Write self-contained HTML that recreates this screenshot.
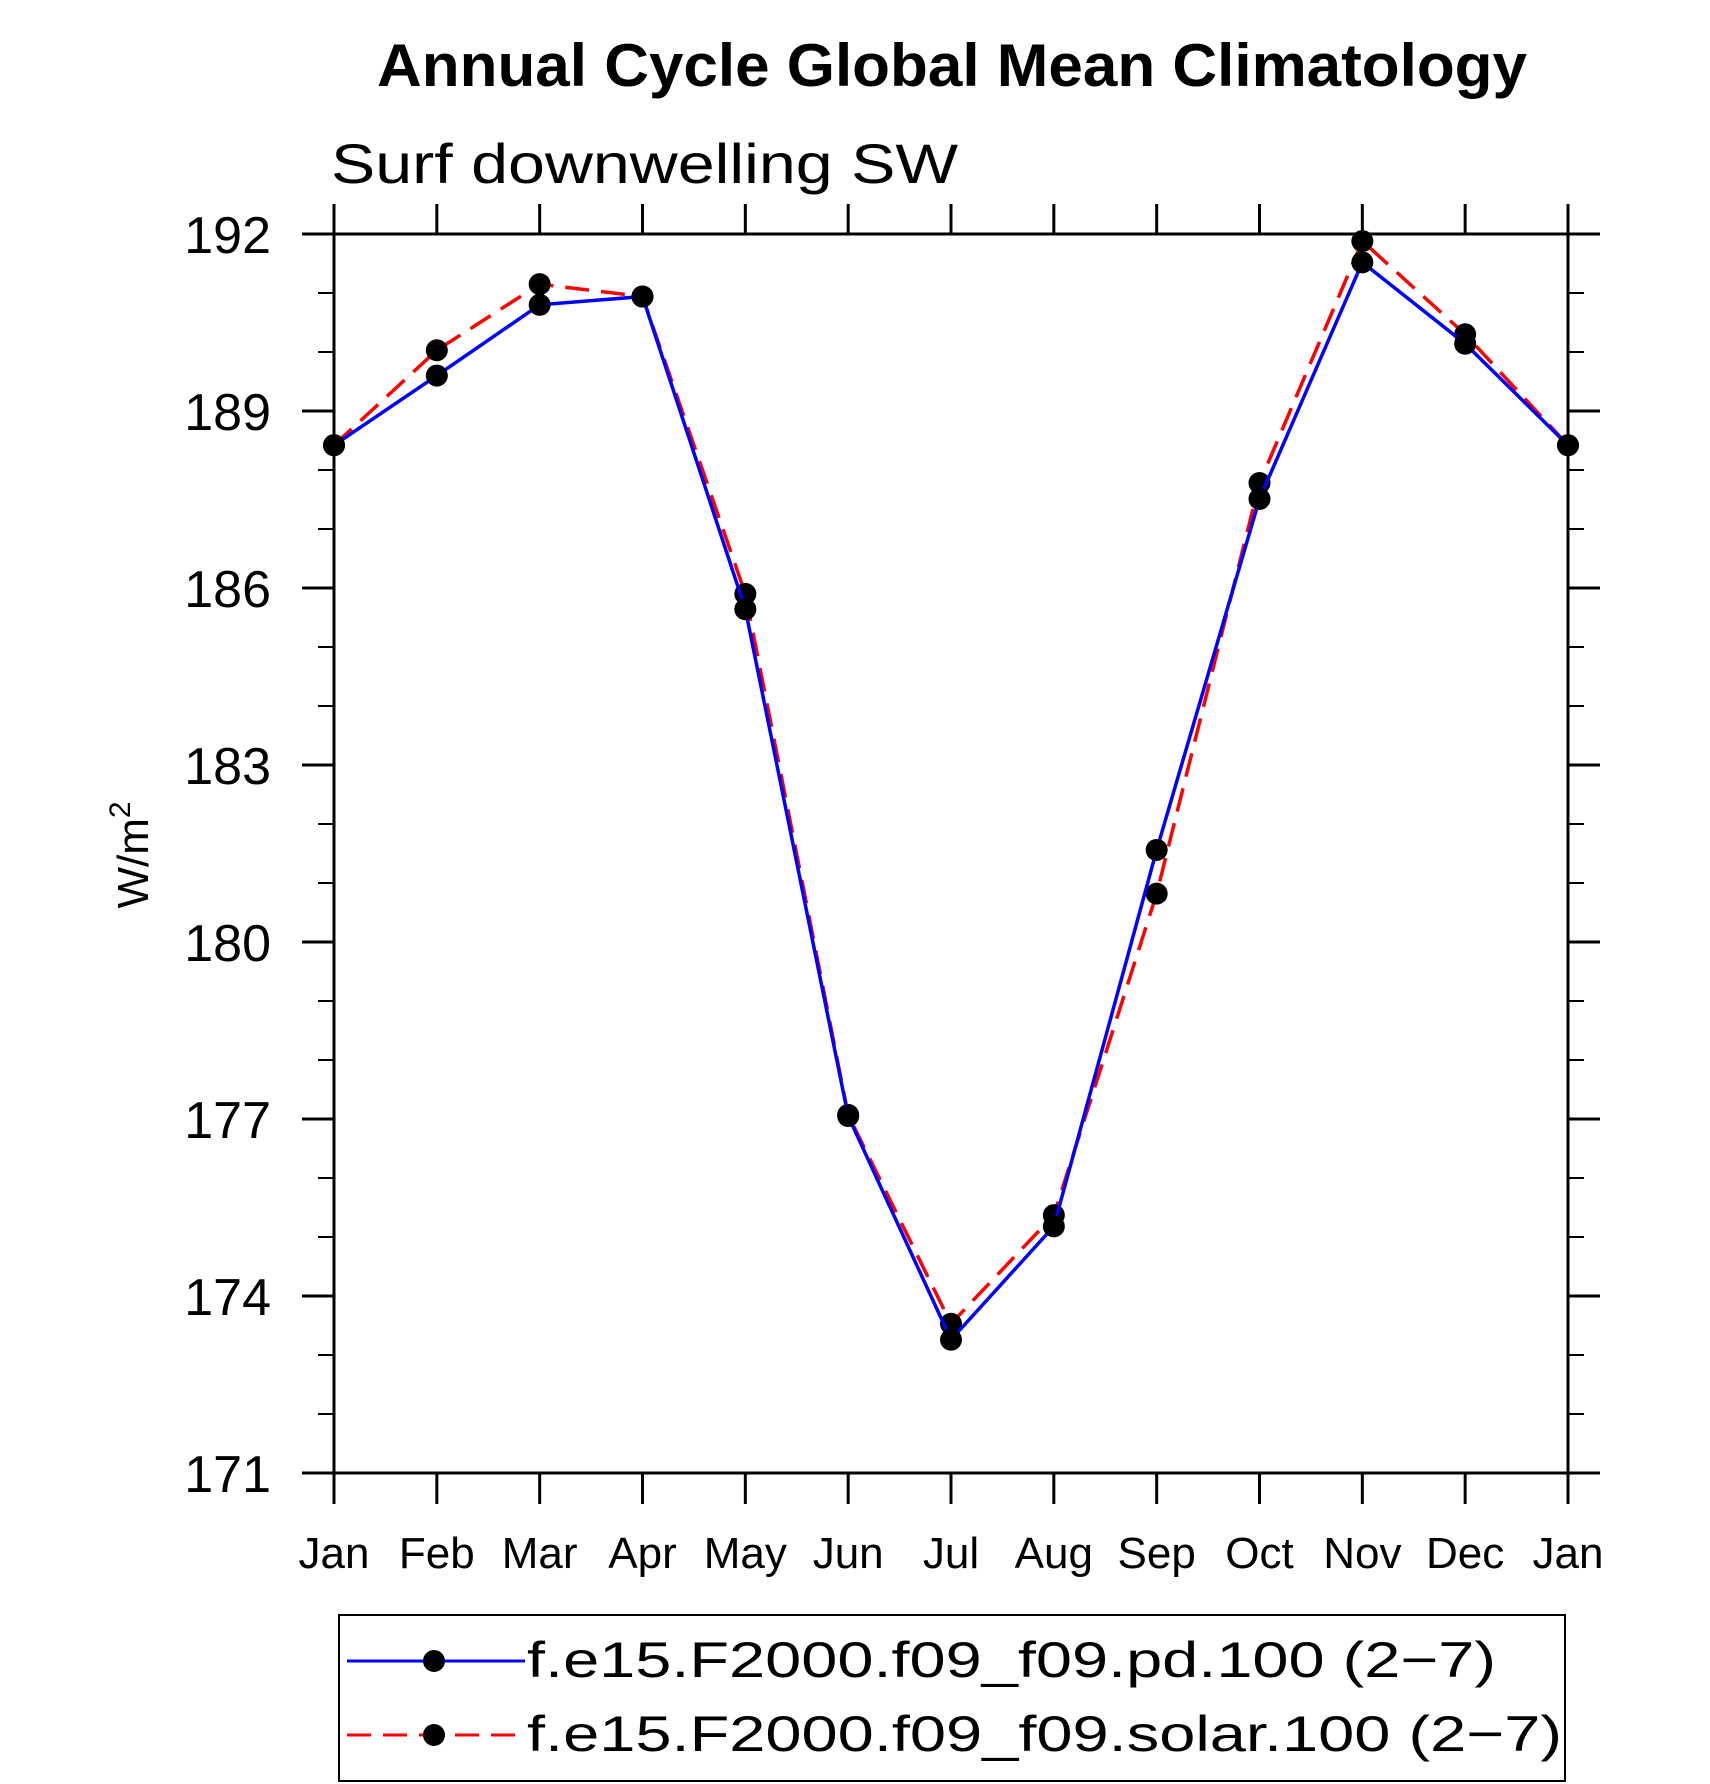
<!DOCTYPE html>
<html><head><meta charset="utf-8"><style>
html,body{margin:0;padding:0;background:#fff;}
svg{display:block;font-family:"Liberation Sans",sans-serif;}
</style></head><body>
<svg id="chart" width="1710" height="1784" viewBox="0 0 1710 1784" xmlns="http://www.w3.org/2000/svg">
<text x="952" y="86" font-size="60" font-weight="bold" text-anchor="middle" textLength="1150" lengthAdjust="spacingAndGlyphs">Annual Cycle Global Mean Climatology</text>
<text x="331" y="183" font-size="56" font-weight="300" textLength="627" lengthAdjust="spacingAndGlyphs">Surf downwelling SW</text>
<text transform="translate(148,855) rotate(-90)" font-size="44" text-anchor="middle">W/m<tspan dy="-18" font-size="30">2</tspan></text>
<g id="axes"></g>
<g id="series"></g>
<rect x="339" y="1615" width="1226" height="166" fill="none" stroke="#000" stroke-width="2"/>
<g>
<line x1="347" y1="1661" x2="525" y2="1661" stroke="#0000ff" stroke-width="3"/>
<circle cx="434" cy="1661" r="11" fill="#000"/>
<text x="527" y="1677" font-size="50" textLength="969" lengthAdjust="spacingAndGlyphs">f.e15.F2000.f09_f09.pd.100 (2−7)</text>
</g>
<g>
<line x1="347" y1="1735" x2="525" y2="1735" stroke="#ff0000" stroke-width="3" stroke-dasharray="24,12"/>
<circle cx="434" cy="1735" r="11" fill="#000"/>
<text x="527" y="1751" font-size="50" textLength="1035" lengthAdjust="spacingAndGlyphs">f.e15.F2000.f09_f09.solar.100 (2−7)</text>
</g>
</svg>
<script>
const months = ["Jan","Feb","Mar","Apr","May","Jun","Jul","Aug","Sep","Oct","Nov","Dec","Jan"];
const pdValues = [188.42,189.6,190.8,190.94,185.64,177.05,173.26,175.18,181.56,187.51,191.52,190.14,188.42];
const solarValues = [188.42,190.03,191.15,190.94,185.9,177.07,173.53,175.37,180.82,187.78,191.88,190.3,188.42];
const yTicks = [171,174,177,180,183,186,189,192];
const NS = "http://www.w3.org/2000/svg";
const L = 334, R = 1568, T = 234, B = 1473, yMin = 171, yMax = 192;
function xs(i){ return L + i * (R - L) / (months.length - 1); }
function ys(v){ return B - (v - yMin) / (yMax - yMin) * (B - T); }
function mk(tag, attrs, parent){ const e = document.createElementNS(NS, tag); for (const k in attrs) e.setAttribute(k, attrs[k]); parent.appendChild(e); return e; }
const ax = document.getElementById("axes");
const frame = mk("rect", {x:L, y:T, width:R-L, height:B-T, fill:"none", stroke:"#000", "stroke-width":3}, ax);


months.forEach((m, i) => {
  const x = xs(i);
  mk("line", {x1:x, y1:T, x2:x, y2:T-30, stroke:"#000", "stroke-width":3}, ax);
  mk("line", {x1:x, y1:B, x2:x, y2:B+31, stroke:"#000", "stroke-width":3}, ax);
  const t = mk("text", {x:x, y:1568, "font-size":44, "text-anchor":"middle"}, ax);
  t.textContent = m;
  
  
});
for (let v = yMin; v <= yMax; v++) {
  const y = ys(v);
  const major = yTicks.includes(v);
  const len = major ? 32 : 16;
  mk("line", {x1:L, y1:y, x2:L-len, y2:y, stroke:"#000", "stroke-width":major?3:2}, ax);
  mk("line", {x1:R, y1:y, x2:R+len, y2:y, stroke:"#000", "stroke-width":major?3:2}, ax);
}
yTicks.forEach(v => {
  const t = mk("text", {x:271, y:ys(v)+19, "font-size":52, "text-anchor":"end", "font-weight":"300"}, ax);
  t.textContent = v;
  
  
});
const sg = document.getElementById("series");
function drawSeries(vals, color, dash, name){
  const g = mk("g", {}, sg);
  
  
  const pts = vals.map((v, i) => xs(i) + "," + ys(v)).join(" ");
  const pl = mk("polyline", {points:pts, fill:"none", stroke:color, "stroke-width":3.5, "stroke-dasharray":dash}, g);
  
  
  vals.forEach((v, i) => {
    const c = mk("circle", {cx:xs(i), cy:ys(v), r:11, fill:"#000"}, g);
    
    
  });
}
drawSeries(solarValues, "#ff0000", "24,12", "series-solar");
drawSeries(pdValues, "#0000ff", "none", "series-pd");
</script>
</body></html>
